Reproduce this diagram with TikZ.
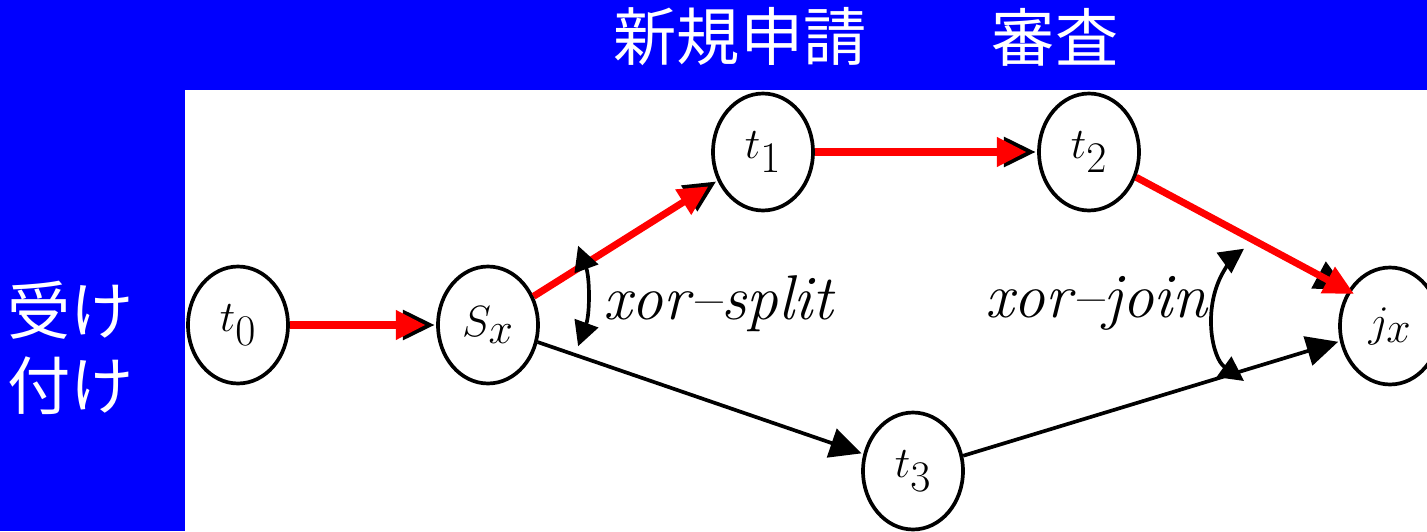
\documentclass[tikz,border=0pt]{standalone}
\usepackage{fontspec}
\newfontfamily\cjk{Noto Sans CJK JP}
\usetikzlibrary{arrows.meta,shapes.geometric}
\begin{document}
\begin{tikzpicture}[x=0.02cm,y=-0.02cm,
  state/.style={ellipse, draw, line width=2.1pt, fill=white, minimum width=2.0cm, minimum height=2.34cm, inner sep=0pt, font=\fontsize{38}{38}\selectfont},
  blk/.style={line width=2.1pt, -{Triangle[length=18pt,width=17pt]}, shorten >=1pt},
  redarr/.style={red, line width=4pt, -{Triangle[length=17pt,width=16pt]}, shorten >=6pt},
  xorarc/.style={line width=2.1pt, {Triangle[length=14pt,width=14pt]}-{Triangle[length=14pt,width=14pt]}},
  hdr/.style={text=white, font=\cjk\fontsize{36}{36}\selectfont, inner sep=0pt},
  lbl/.style={font=\itshape\fontsize{36}{36}\selectfont, inner sep=0pt}]
\useasboundingbox (0,0) rectangle (1427,531);
\fill[blue] (0,0) rectangle (1427,531);
\fill[white] (185,90) rectangle (1427,531);
\begin{scope}
\clip (0,0) rectangle (1427,531);
\node[hdr] (h1) at (740,37) {新規申請};
\node[hdr] (h2) at (1055,37) {審査};
\node[hdr] (l1) at (71,310) {受け};
\node[hdr] (l2) at (71,386) {付け};

\node[state] (t0) at (238,325) {$t_0$};
\node[state] (sx) at (488,325) {$S_x$};
\node[state] (t1) at (763,152) {$t_1$};
\node[state] (t2) at (1089,152) {$t_2$};
\node[state] (t3) at (913,471) {$t_3$};
\node[state] (jx) at (1390,326) {$j_x$};

\node[lbl, anchor=base west] (xs) at (603,319) {xor--split};
\node[lbl, anchor=base east] (xj) at (1208,317) {xor--join};

\draw[blk] (sx) -- (t3);
\draw[blk] (t3) -- (jx);
\draw[blk] (t0) -- (sx);
\draw[blk] (sx) -- (t1);
\draw[blk] (t1) -- (t2);
\draw[blk] (t2) -- (jx.140);

\draw[redarr] (t0) -- (sx);
\draw[redarr] (sx) -- (t1);
\draw[redarr] (t1) -- (t2);
\draw[redarr, shorten >=-4pt] (t2) -- (jx.140);

\draw[xorarc] (578.1,245.7) arc[start angle=-20, end angle=20, radius=147];
\draw[xorarc] (1244,381) arc[start angle=122, end angle=238, x radius=68, y radius=78];
\end{scope}
\end{tikzpicture}
\end{document}
